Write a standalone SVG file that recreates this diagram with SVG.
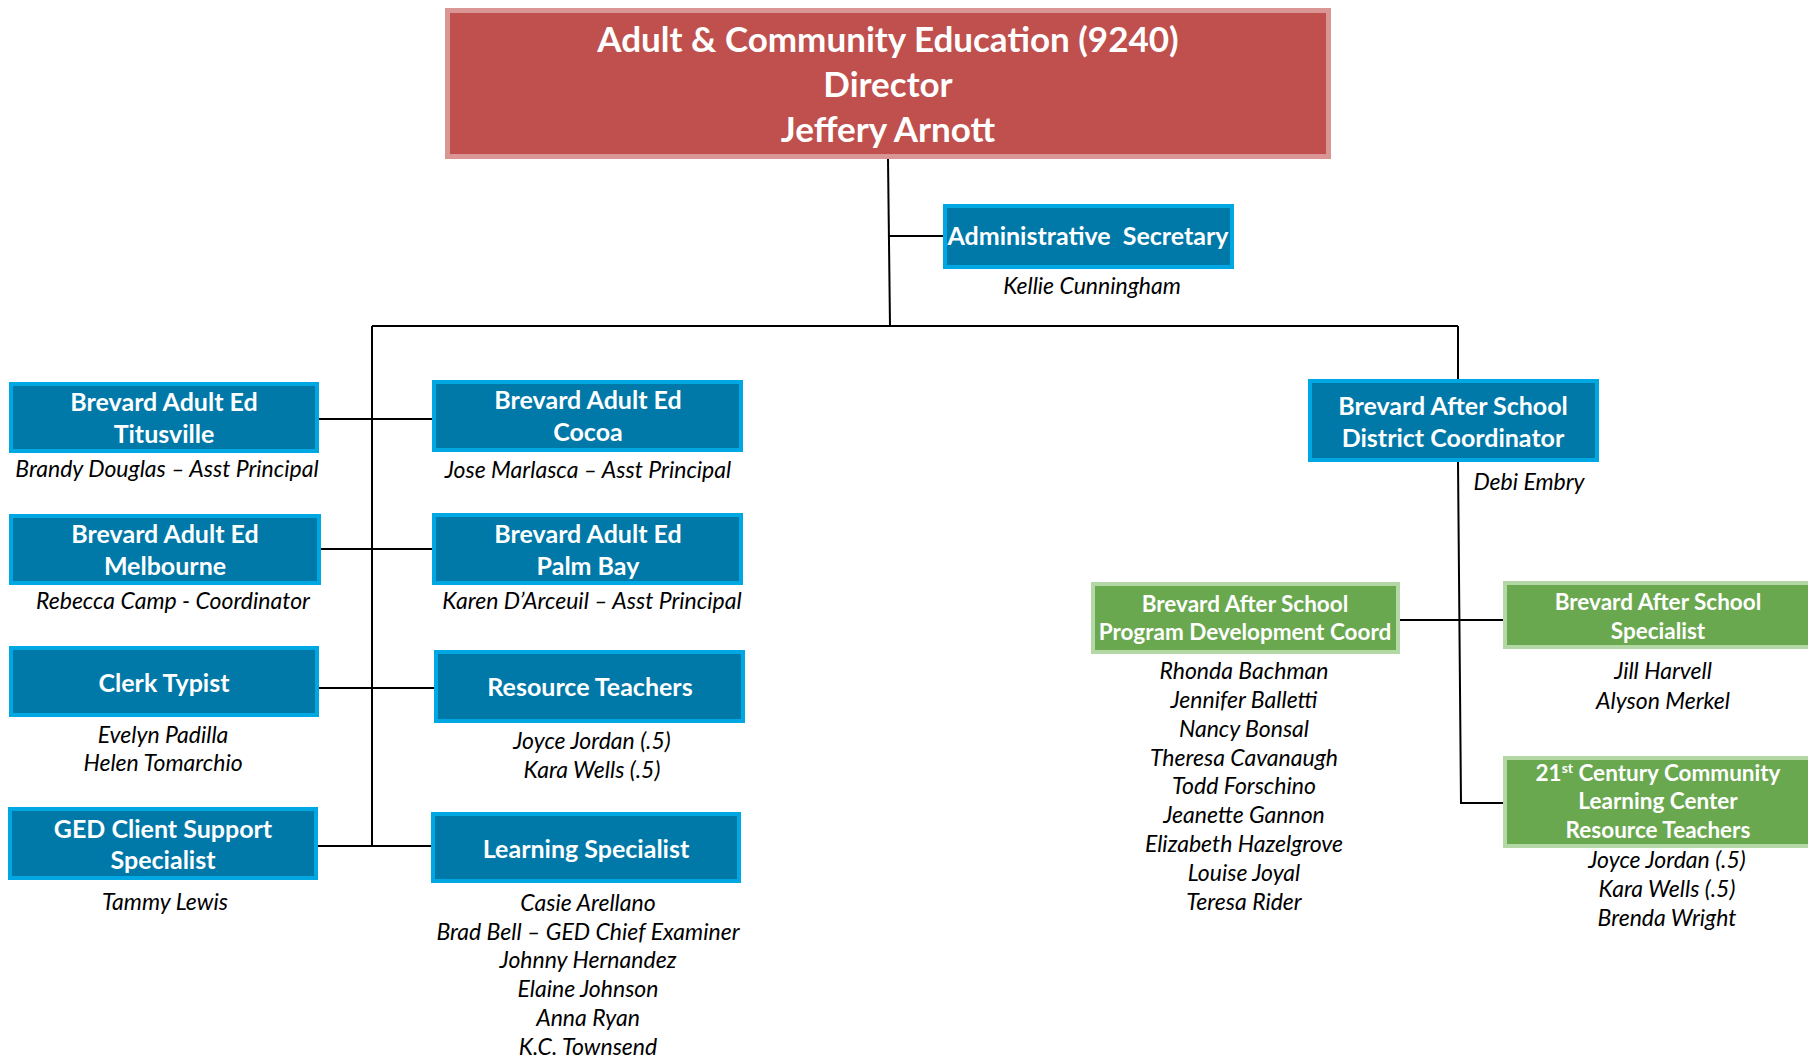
<svg xmlns="http://www.w3.org/2000/svg" width="1808" height="1059" viewBox="0 0 1808 1059">
<style>
.blue{fill:#0079A9;stroke:#00A8E3;stroke-width:4}
.green{fill:#6AA84F;stroke:#B4D7A6;stroke-width:4}
.dir{fill:#C0504D;stroke:#D99694;stroke-width:5}
.h{font-family:Lato,"Open Sans",sans-serif;font-weight:bold;fill:#fff;text-anchor:middle;font-size:25px}
.hg{font-family:Lato,"Open Sans",sans-serif;font-weight:bold;fill:#fff;text-anchor:middle;font-size:22.5px}
.t{font-family:Lato,"Open Sans",sans-serif;font-weight:bold;fill:#fff;text-anchor:middle;font-size:35px}
.n{font-family:Lato,"Open Sans",sans-serif;font-style:italic;fill:#000;text-anchor:middle;font-size:23px}
.c{stroke:#000;stroke-width:2;fill:none}
</style>
<rect width="1808" height="1059" fill="#fff"/>
<g id="connectors">
<path class="c" d="M888,159 L890,326"/>
<path class="c" d="M889,236 H943"/>
<path class="c" d="M372,326 H1458"/>
<path class="c" d="M372,326 V846"/>
<path class="c" d="M319,419 H432"/>
<path class="c" d="M321,549 H432"/>
<path class="c" d="M319,688 H434"/>
<path class="c" d="M318,846 H431"/>
<path class="c" d="M1458,326 V379"/>
<path class="c" d="M1458,462 L1461,803 H1503"/>
<path class="c" d="M1400,620 H1503"/>
</g>
<g id="director">
<rect class="dir" x="447.5" y="10.5" width="881" height="146"/>
<text class="t" x="888" y="52">Adult &amp; Community Education (9240)</text>
<text class="t" x="888" y="97">Director</text>
<text class="t" x="888" y="142">Jeffery Arnott</text>
</g>
<g id="admin-secretary">
<rect class="blue" x="945" y="206" width="287" height="61"/>
<text class="h" x="1088" y="245" xml:space="preserve">Administrative  Secretary</text>
<text class="n" x="1092" y="294">Kellie Cunningham</text>
</g>
<g id="titusville">
<rect class="blue" x="11" y="384" width="306" height="67"/>
<text class="h" x="164" y="411">Brevard Adult Ed</text>
<text class="h" x="164" y="443">Titusville</text>
<text class="n" x="167" y="477">Brandy Douglas – Asst Principal</text>
</g>
<g id="melbourne">
<rect class="blue" x="11" y="516" width="308" height="67"/>
<text class="h" x="165" y="543">Brevard Adult Ed</text>
<text class="h" x="165" y="575">Melbourne</text>
<text class="n" x="173" y="609">Rebecca Camp - Coordinator</text>
</g>
<g id="clerk-typist">
<rect class="blue" x="11" y="648" width="306" height="67"/>
<text class="h" x="164" y="692">Clerk Typist</text>
<text class="n" x="163" y="743">Evelyn Padilla</text>
<text class="n" x="163" y="771">Helen Tomarchio</text>
</g>
<g id="ged-support">
<rect class="blue" x="10" y="809" width="306" height="69"/>
<text class="h" x="163" y="838">GED Client Support</text>
<text class="h" x="163" y="869">Specialist</text>
<text class="n" x="165" y="910">Tammy Lewis</text>
</g>
<g id="cocoa">
<rect class="blue" x="434" y="382" width="307" height="68"/>
<text class="h" x="588" y="409">Brevard Adult Ed</text>
<text class="h" x="588" y="441">Cocoa</text>
<text class="n" x="588" y="478">Jose Marlasca – Asst Principal</text>
</g>
<g id="palm-bay">
<rect class="blue" x="434" y="515" width="307" height="68"/>
<text class="h" x="588" y="543">Brevard Adult Ed</text>
<text class="h" x="588" y="575">Palm Bay</text>
<text class="n" x="592" y="609">Karen D’Arceuil – Asst Principal</text>
</g>
<g id="resource-teachers">
<rect class="blue" x="436" y="652" width="307" height="69"/>
<text class="h" x="590" y="696">Resource Teachers</text>
<text class="n" x="592" y="749">Joyce Jordan (.5)</text>
<text class="n" x="592" y="778">Kara Wells (.5)</text>
</g>
<g id="learning-specialist">
<rect class="blue" x="433" y="814" width="306" height="67"/>
<text class="h" x="586" y="858">Learning Specialist</text>
<text class="n" x="588" y="911">Casie Arellano</text>
<text class="n" x="588" y="940">Brad Bell – GED Chief Examiner</text>
<text class="n" x="588" y="968">Johnny Hernandez</text>
<text class="n" x="588" y="997">Elaine Johnson</text>
<text class="n" x="588" y="1026">Anna Ryan</text>
<text class="n" x="588" y="1055">K.C. Townsend</text>
</g>
<g id="district-coordinator">
<rect class="blue" x="1310" y="381" width="287" height="79"/>
<text class="h" x="1453" y="415">Brevard After School</text>
<text class="h" x="1453" y="447">District Coordinator</text>
<text class="n" x="1529" y="490">Debi Embry</text>
</g>
<g id="program-development">
<rect class="green" x="1093" y="584" width="305" height="68"/>
<text class="hg" x="1245" y="612">Brevard After School</text>
<text class="hg" x="1245" y="640">Program Development Coord</text>
<text class="n" x="1244" y="679">Rhonda Bachman</text>
<text class="n" x="1244" y="708">Jennifer Balletti</text>
<text class="n" x="1244" y="737">Nancy Bonsal</text>
<text class="n" x="1244" y="766">Theresa Cavanaugh</text>
<text class="n" x="1244" y="794">Todd Forschino</text>
<text class="n" x="1244" y="823">Jeanette Gannon</text>
<text class="n" x="1244" y="852">Elizabeth Hazelgrove</text>
<text class="n" x="1244" y="881">Louise Joyal</text>
<text class="n" x="1244" y="910">Teresa Rider</text>
</g>
<g id="after-school-specialist">
<rect class="green" x="1505" y="583" width="310" height="64"/>
<text class="hg" x="1658" y="610">Brevard After School</text>
<text class="hg" x="1658" y="639">Specialist</text>
<text class="n" x="1663" y="679">Jill Harvell</text>
<text class="n" x="1663" y="709">Alyson Merkel</text>
</g>
<g id="century-21">
<rect class="green" x="1505" y="758" width="310" height="88"/>
<text class="hg" x="1658" y="781">21<tspan font-size="14" dy="-8">st</tspan><tspan dy="8"> Century Community</tspan></text>
<text class="hg" x="1658" y="809">Learning Center</text>
<text class="hg" x="1658" y="838">Resource Teachers</text>
<text class="n" x="1667" y="868">Joyce Jordan (.5)</text>
<text class="n" x="1667" y="897">Kara Wells (.5)</text>
<text class="n" x="1667" y="926">Brenda Wright</text>
</g>
</svg>
